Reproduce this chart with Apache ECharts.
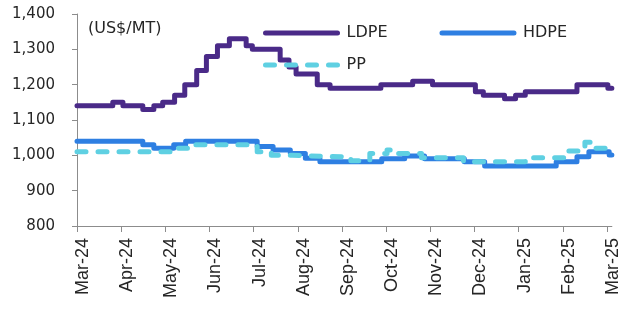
<!DOCTYPE html>
<html>
<head>
<meta charset="utf-8">
<script src="https://cdn.jsdelivr.net/npm/echarts@6/dist/echarts.min.js"></script>
<style>
  html, body { margin: 0; padding: 0; background: #fff; }
  #chart { width: 622px; height: 309px; }
</style>
</head>
<body>
<div id="chart"></div>
<script>
// month labels on the x axis (one tick per month, 0 = Mar-24)
var months = ['Mar-24', 'Apr-24', 'May-24', 'Jun-24', 'Jul-24', 'Aug-24', 'Sep-24',
              'Oct-24', 'Nov-24', 'Dec-24', 'Jan-25', 'Feb-25', 'Mar-25'];

// change points: position in months since Mar-24, price in US$/MT
var ldpeX = [0, 0.81, 1.04, 1.49, 1.74, 1.94, 2.21, 2.44, 2.71, 2.93, 3.18, 3.45, 3.83, 3.97,
             4.60, 4.80, 4.96, 5.44, 5.73, 6.88, 7.60, 8.05, 9.02, 9.20, 9.68, 9.93, 10.15,
             11.32, 12.02, 12.11];
var ldpeY = [1140, 1150, 1140, 1130, 1140, 1150, 1170, 1200, 1240, 1280, 1310, 1330, 1310, 1300,
             1270, 1250, 1230, 1200, 1190, 1200, 1210, 1200, 1180, 1170, 1160, 1170, 1180,
             1200, 1190, 1190];

var hdpeX = [0, 1.49, 1.74, 2.19, 2.46, 4.08, 4.44, 4.83, 5.17, 5.50, 6.90, 7.42, 7.87,
             8.77, 9.23, 10.85, 11.32, 11.59, 12.05, 12.11];
var hdpeY = [1040, 1030, 1020, 1030, 1040, 1025, 1015, 1005, 992, 982, 990, 998, 990,
             982, 970, 982, 996, 1010, 1001, 1001];

var ppX = [0, 2.19, 2.67, 4.08, 4.40, 4.87, 6.20, 6.63, 7.02, 7.12, 7.80, 8.75, 10.15,
           11.03, 11.50, 11.62, 12.11];
var ppY = [1010, 1020, 1030, 1010, 1000, 995, 985, 1005, 1015, 1005, 993, 982, 993,
           1012, 1037, 1020, 1020];

function pairs(xs, ys) {
	return xs.map(function (x, i) { return [x, ys[i]]; });
}

var wide = 'DejaVu Sans, Verdana, sans-serif';
var arial = 'Liberation Sans, Arial, sans-serif';
var ticks = [0, 1, 2, 3, 4, 5, 6, 7, 8, 9, 10, 11, 12];
var chart = echarts.init(document.getElementById('chart'));

var legendBase = {
	itemWidth: 72,
	itemHeight: 14,
	itemGap: 52,
	itemStyle: { opacity: 0 },
	lineStyle: { width: 5, cap: 'round' },
	textStyle: { fontSize: 16, color: '#262626', fontFamily: wide, padding: [0, 0, 0, 4] }
};

chart.setOption({
	animation: false,
	backgroundColor: '#fff',
	title: {
		text: '(US$/MT)',
		left: 83,
		top: 16,
		textStyle: { fontSize: 16, fontWeight: 'normal', color: '#262626', fontFamily: wide }
	},
	legend: [
		Object.assign({ data: ['LDPE', 'HDPE'], left: 258, top: 20 }, legendBase),
		Object.assign({ data: ['PP'], left: 258, top: 52 }, legendBase)
	],
	grid: { left: 77, right: 8, top: 14, bottom: 83 },
	xAxis: {
		type: 'value',
		min: 0,
		max: 12.11,
		splitLine: { show: false },
		axisLine: { lineStyle: { color: '#8c8c8c' } },
		axisTick: { customValues: ticks, length: 6, lineStyle: { color: '#8c8c8c' } },
		axisLabel: {
			customValues: ticks,
			rotate: 90,
			margin: 12,
			fontSize: 18,
			fontFamily: arial,
			verticalAlign: 'top',
			lineHeight: 12,
			color: '#262626',
			formatter: function (v) { return months[Math.round(v)]; }
		}
	},
	yAxis: {
		type: 'value',
		min: 800,
		max: 1400,
		interval: 100,
		splitLine: { show: false },
		axisLine: { show: true, lineStyle: { color: '#8c8c8c' } },
		axisTick: { show: true, length: 5, lineStyle: { color: '#8c8c8c' } },
		axisLabel: {
			margin: 22,
			fontSize: 15,
			fontFamily: wide,
			color: '#262626',
			formatter: function (v) { return v.toLocaleString('en-US'); }
		}
	},
	series: [{
		name: 'LDPE',
		type: 'line',
		step: 'end',
		symbol: 'none',
		color: '#4a2a88',
		lineStyle: { width: 5, color: '#4a2a88', cap: 'round', join: 'round' },
		data: pairs(ldpeX, ldpeY),
		z: 3
	}, {
		name: 'HDPE',
		type: 'line',
		step: 'end',
		symbol: 'none',
		color: '#2e7fe2',
		lineStyle: { width: 5, color: '#2e7fe2', cap: 'round', join: 'round' },
		data: pairs(hdpeX, hdpeY),
		z: 2
	}, {
		name: 'PP',
		type: 'line',
		step: 'end',
		symbol: 'none',
		color: '#5fd0e2',
		lineStyle: { width: 5, color: '#5fd0e2', type: [9, 12], cap: 'round', join: 'round' },
		data: pairs(ppX, ppY),
		z: 4
	}]
});
</script>
</body>
</html>
